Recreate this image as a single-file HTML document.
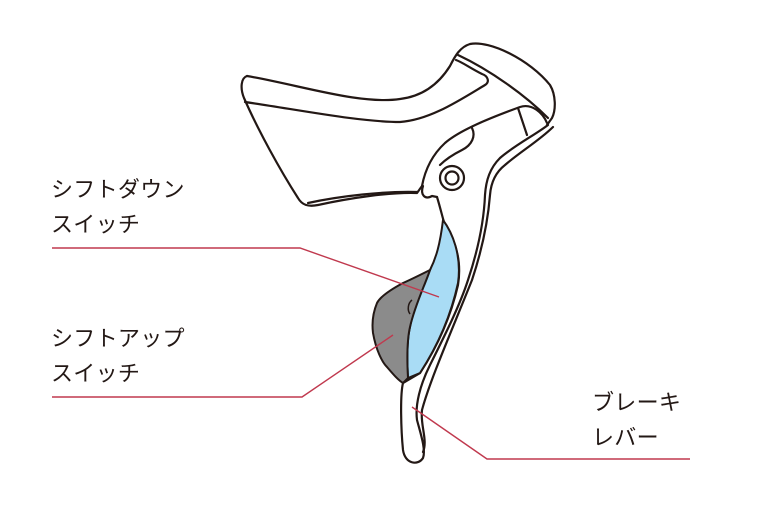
<!DOCTYPE html>
<html><head><meta charset="utf-8"><style>
html,body{margin:0;padding:0;background:#fff;}
body{width:768px;height:519px;position:relative;overflow:hidden;font-family:"Liberation Sans","Noto Sans CJK JP",sans-serif;}
.t{position:absolute;font-size:22px;line-height:35px;color:#231815;letter-spacing:0.3px;}
svg{position:absolute;left:0;top:0;}
</style></head><body>
<svg width="768" height="519" viewBox="0 0 768 519">
<g fill="none" stroke="#231815" stroke-width="2.2" stroke-linejoin="round" stroke-linecap="round">
<path d="M247,76 C300,85 360,105 400,99 C425,96 440,82 450,66 C455,56 460,47 470,44 C490,40 530,60 550,85 C556,95 556,110 552,118 L547,125" fill="#fff"/>
<path d="M247,76 C241,78 240,88 244,98 C258,130 280,170 298,198 C302,205 308,207 318,205 C350,198 390,192 417,193 L422,186 C425,170 432,155 445,143 C460,130 490,118 520,107 C532,103 543,113 547,123"/>
<path d="M245,102 C300,110 360,122 400,122 C430,120 460,100 485,85 C490,82 488,76 482,74 C470,68 462,62 456,60"/>
<path d="M308,203 C340,196 385,191 417,192"/>
<path d="M458,55 C490,70 525,95 548,118"/>
<path d="M518,108 L527,135"/>
<path d="M472,128 C476,136 472,145 462,150 C452,155 445,160 440,165"/>
<path d="M423,186 C420,195 425,200 432,196 L437,197"/>
<circle cx="452" cy="178" r="12" fill="#fff"/>
<circle cx="452" cy="178" r="6.5"/>
<path d="M437,197 C441,210 443,220 445,225 C455,240 462,260 458,285 C450,320 435,350 420,373 L403,383 C400,395 401,430 403,450 C405,464 418,466 423,458 C426,450 421,435 417,420 C415,405 420,385 430,365 C445,335 460,305 468,280 C478,250 484,220 485,195 C486,180 490,168 500,158 C515,145 535,135 548,125"/>
<path d="M423,452 C428,440 420,425 422,410 C430,380 452,330 472,280 C482,250 488,220 490,195 C491,182 496,172 505,165 C520,152 540,140 553,127"/>
</g>
<path d="M443,220 C452,232 462,255 458,283 C450,320 435,350 420,373 L408,378 C407,360 407,340 410,327 C415,300 425,280 430,270 C436,258 440,245 443,220 Z" fill="#a9dcf5" stroke="#231815" stroke-width="2"/>
<path d="M430,270 C420,275 410,280 403,283 C390,290 380,297 377,303 C372,315 372,325 373,333 C376,350 382,362 387,367 C393,374 398,380 403,383 L408,378 C407,360 407,340 410,327 C415,305 425,285 430,270 Z" fill="#8b8b8b" stroke="#231815" stroke-width="2"/>
<path d="M412,300 C408,303 407,310 410,314" fill="none" stroke="#231815" stroke-width="1.5"/>
<g fill="none" stroke="#c0394e" stroke-width="1.4">
<polyline points="52,248 300,248 439,297"/>
<polyline points="52,397 302,397 393,335"/>
<polyline points="412,407 487,459 690,459"/>
</g>
</svg>
<div class="t" style="left:51px;top:172px;">シフトダウン<br>スイッチ</div>
<div class="t" style="left:51px;top:321px;">シフトアップ<br>スイッチ</div>
<div class="t" style="left:592px;top:385px;">ブレーキ<br>レバー</div>
</body></html>
